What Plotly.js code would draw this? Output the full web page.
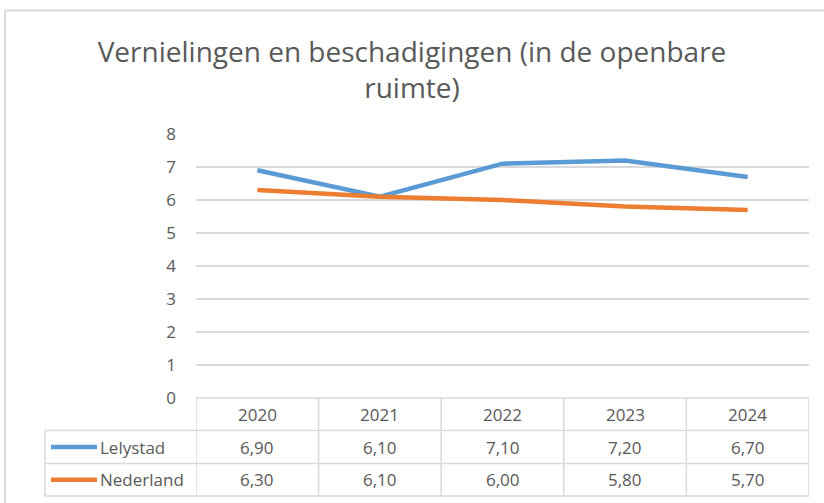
<!DOCTYPE html>
<html>
<head>
<meta charset="utf-8">
<script src="https://cdn.plot.ly/plotly-3.0.1.min.js"></script>
<style>
html,body{margin:0;padding:0;background:#fff;}
#chart{width:824px;height:503px;}
</style>
</head>
<body>
<div id="chart"></div>
<script>
const years = ['2020','2021','2022','2023','2024'];
const lelystad = [6.90, 6.10, 7.10, 7.20, 6.70];
const nederland = [6.30, 6.10, 6.00, 5.80, 5.70];
const seriesNames = ['Lelystad','Nederland'];
const seriesColors = ['#5b9bd5','#ed7d31'];
const yTicks = [0,1,2,3,4,5,6,7,8];

const W = 824, H = 503;
const px = x => x / W;
const py = y => 1 - y / H;

const plotL = 196, plotR = 809, plotT = 134, plotB = 398;
const rowTops = [398, 430.5, 463.5, 496];
const tableLeft = 45;
const gridCol = '#d9d9d9';
const textCol = '#595959';
const fontFam = '"Open Sans", Lato, sans-serif';

const xs = years.map((_, i) => i);
const allSeries = [lelystad, nederland];

const traces = allSeries.map((vals, k) => ({
  x: xs, y: vals, type: 'scatter', mode: 'lines',
  line: {color: seriesColors[k], width: 4.5},
  name: seriesNames[k], hoverinfo: 'skip'
}));

const shapes = [];
const annotations = [];
// outer chart border (top and left)
shapes.push({type:'line', xref:'paper', yref:'paper', x0:px(5), x1:1, y0:py(10.5), y1:py(10.5), line:{color:'#d9d9d9', width:2}});
shapes.push({type:'line', xref:'paper', yref:'paper', x0:px(5), x1:px(5), y0:py(10.5), y1:0, line:{color:'#d9d9d9', width:2}});

// table horizontal lines
shapes.push({type:'line', xref:'x', yref:'paper', x0:-0.5, x1:years.length-0.5, y0:py(rowTops[0]), y1:py(rowTops[0]), line:{color:gridCol, width:1.5}});
for (let r = 1; r < rowTops.length; r++) {
  shapes.push({type:'line', xref:'paper', yref:'paper', x0:px(tableLeft), x1:px(plotR), y0:py(rowTops[r]), y1:py(rowTops[r]), line:{color:gridCol, width:1.5}});
}
// table vertical lines at category boundaries
for (let i = 0; i <= years.length; i++) {
  shapes.push({type:'line', xref:'x', yref:'paper', x0:i-0.5, x1:i-0.5, y0:py(rowTops[0]), y1:py(rowTops[3]), line:{color:gridCol, width:1.5}});
}
shapes.push({type:'line', xref:'paper', yref:'paper', x0:px(tableLeft), x1:px(tableLeft), y0:py(rowTops[1]), y1:py(rowTops[3]), line:{color:gridCol, width:1.5}});

const tf = {size:17, color:textCol, family:fontFam};
// header labels
years.forEach((yr, i) => {
  annotations.push({x:i, xref:'x', y:py((rowTops[0]+rowTops[1])/2), yref:'paper', text:yr, showarrow:false, xanchor:'center', yanchor:'middle', font:tf});
});
// values
allSeries.forEach((vals, k) => {
  const yc = (rowTops[k+1] + rowTops[k+2]) / 2;
  vals.forEach((v, i) => {
    annotations.push({x:i, xref:'x', y:py(yc), yref:'paper', text:v.toFixed(2).replace('.', ','), showarrow:false, xanchor:'center', yanchor:'middle', font:tf});
  });
  shapes.push({type:'line', xref:'paper', yref:'paper', x0:px(51), x1:px(97), y0:py(yc), y1:py(yc), line:{color:seriesColors[k], width:4.5}});
  annotations.push({x:px(98), xref:'paper', y:py(yc), yref:'paper', text:seriesNames[k], showarrow:false, xanchor:'left', yanchor:'middle', font:tf});
});

const layout = {
  width: W, height: H,
  margin: {l:0, r:0, t:0, b:0},
  paper_bgcolor: '#fff', plot_bgcolor: '#fff',
  showlegend: false,
  title: {text: 'Vernielingen en beschadigingen (in de openbare<br>ruimte)', x: 0.5, xanchor: 'center', xref:'paper', y: 1 - 62/H, yref: 'container', yanchor: 'middle', font: {size: 28, color: textCol, family: fontFam}},
  xaxis: {domain:[px(plotL), px(plotR)], range:[-0.5, years.length-0.5], showgrid:false, zeroline:false, showticklabels:false, ticks:'', showline:false, fixedrange:true},
  yaxis: {domain:[py(plotB), py(plotT)], range:[0, 8], tickvals: yTicks, ticktext: yTicks.map(String), showgrid:true, gridcolor:gridCol, gridwidth:1.5, zeroline:false, showline:false, ticks:'', ticklabelstandoff: 19, tickfont:tf, fixedrange:true},
  shapes: shapes,
  annotations: annotations
};

Plotly.newPlot('chart', traces, layout, {staticPlot:true, displayModeBar:false});
</script>
</body>
</html>
